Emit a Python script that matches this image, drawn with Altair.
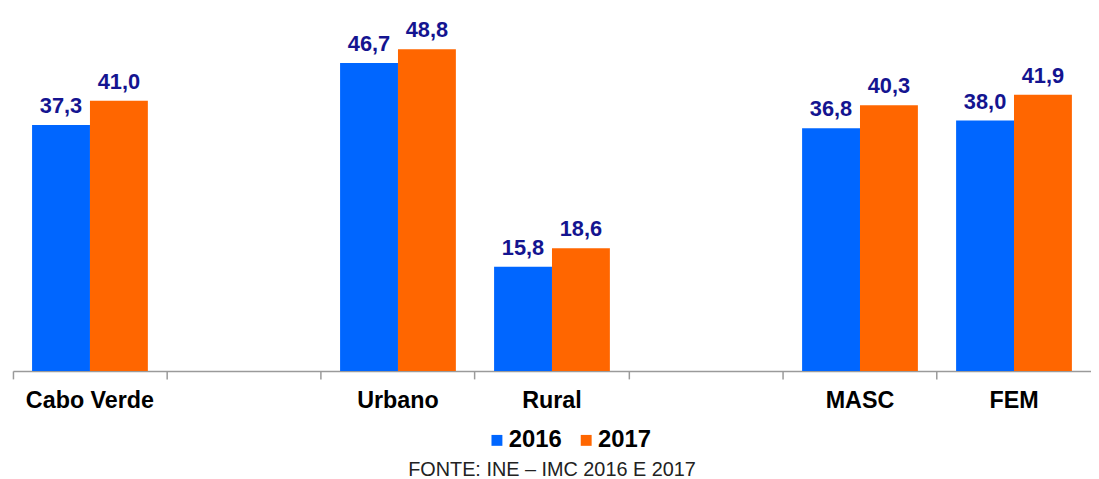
import altair as alt
import pandas as pd

categories = ["Cabo Verde", "Urbano", "Rural", "MASC", "FEM"]
slots = ["Cabo Verde", "gap1", "Urbano", "Rural", "gap2", "MASC", "FEM"]
years = ["2016", "2017"]
v2016 = [37.3, 46.7, 15.8, 36.8, 38.0]
v2017 = [41.0, 48.8, 18.6, 40.3, 41.9]
source = "FONTE: INE – IMC 2016 E 2017"

rows = []
for c, a, b in zip(categories, v2016, v2017):
    rows.append({"cat": c, "year": "2016", "value": a, "label": f"{a:.1f}".replace(".", ",")})
    rows.append({"cat": c, "year": "2017", "value": b, "label": f"{b:.1f}".replace(".", ",")})
df = pd.DataFrame(rows)

FONT = "Liberation Sans"

x = alt.X("cat:N", scale=alt.Scale(domain=slots, paddingInner=0, paddingOuter=0),
          axis=alt.Axis(title=None, labelExpr="indexof(datum.value, 'gap') == 0 ? '' : datum.value",
                        labelAngle=0, labelFont=FONT, labelFontSize=23.5, labelFontWeight="bold",
                        labelColor="#000000", labelPadding=10, bandPosition=0,
                        domainColor="#9a9a9a", domainWidth=1.5, tickColor="#9a9a9a",
                        tickWidth=1.5, tickSize=8, grid=False))
xo = alt.XOffset("year:N", scale=alt.Scale(domain=years, paddingOuter=0.33, paddingInner=0))
y = alt.Y("value:Q", scale=alt.Scale(domain=[0, 54], nice=False), axis=None)

bars = alt.Chart(df).mark_bar().encode(
    x=x, xOffset=xo, y=y,
    color=alt.Color("year:N", scale=alt.Scale(domain=years, range=["#0066FF", "#FF6600"]),
                    legend=alt.Legend(title=None, orient="none", direction="horizontal",
                                      legendX=476, legendY=417, symbolType="square",
                                      symbolSize=121,
                                      labelFont=FONT, labelFontSize=24, labelFontWeight="bold",
                                      labelColor="#000000", labelOffset=0, columnPadding=12)),
)

labels = alt.Chart(df).mark_text(baseline="bottom", dy=-7, font=FONT, fontSize=22,
                                 fontWeight="bold", color="#141490").encode(
    x=x, xOffset=xo, y=y, text="label:N"
)

chart = (bars + labels).properties(
    width=1087, height=359,
    padding={"left": 4, "top": 5, "right": 0, "bottom": 0},
    title=alt.TitleParams(source, orient="bottom", anchor="middle", font=FONT, fontSize=20,
                          fontWeight="normal", color="#222222", offset=8),
).configure_view(strokeWidth=0)

chart.save("out.html", embed_options={"renderer": "svg", "actions": False})
